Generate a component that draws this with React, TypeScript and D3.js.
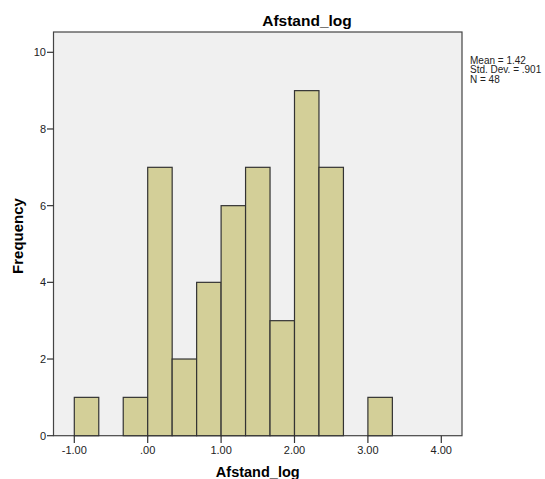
import React, { useEffect, useRef } from "react";
import * as d3 from "d3";

// histogram bins (lower edge, count), bin width 1/3
const binStarts = [-1, -1 / 3, 0, 1 / 3, 2 / 3, 1, 4 / 3, 5 / 3, 2, 7 / 3, 3];
const binWidth = 1 / 3;
const counts = [1, 1, 7, 2, 4, 6, 7, 3, 9, 7, 1];
const xTicks = [-1, 0, 1, 2, 3, 4];
const yTicks = [0, 2, 4, 6, 8, 10];
const statLines = ["Mean = 1.42", "Std. Dev. = .901", "N = 48"];

const fmtX = (v: number) => {
  const s = v.toFixed(2);
  return s.replace(/^0\./, ".").replace(/^-0\./, "-.");
};

export default function App() {
  const ref = useRef<SVGSVGElement | null>(null);

  useEffect(() => {
    const svg = d3.select(ref.current);
    svg.selectAll("*").remove();

    const left = 53.5, right = 462, top = 32, bottom = 435.7;
    const x = d3.scaleLinear().domain([-1, 4]).range([74.3, 441.3]);
    const y = d3.scaleLinear().domain([0, 10]).range([bottom, 52.3]);

    svg.append("rect").attr("width", 545).attr("height", 479).attr("fill", "#fff");

    svg.append("rect")
      .attr("x", left).attr("y", top)
      .attr("width", right - left).attr("height", bottom - top)
      .attr("fill", "#f0f0f0")
      .attr("stroke", "#444").attr("stroke-width", 1.2);

    svg.selectAll(".bar")
      .data(counts)
      .enter()
      .append("rect")
      .attr("class", "bar")
      .attr("x", (d, i) => x(binStarts[i]))
      .attr("y", d => y(d))
      .attr("width", x(binWidth) - x(0))
      .attr("height", d => bottom - y(d))
      .attr("fill", "#d3cf98")
      .attr("stroke", "#333")
      .attr("stroke-width", 1.2);

    const font = "Arial, 'Liberation Sans', sans-serif";

    // y axis ticks
    const yg = svg.append("g");
    yTicks.forEach(t => {
      yg.append("line").attr("x1", 47).attr("x2", left).attr("y1", y(t)).attr("y2", y(t))
        .attr("stroke", "#333").attr("stroke-width", 1.2);
      yg.append("text").attr("x", 46).attr("y", y(t)).attr("dy", "0.35em")
        .attr("text-anchor", "end").attr("font-family", font).attr("font-size", 11)
        .attr("fill", "#222").text(t);
    });

    // x axis ticks
    const xg = svg.append("g");
    xTicks.forEach(t => {
      xg.append("line").attr("x1", x(t)).attr("x2", x(t)).attr("y1", bottom).attr("y2", 443)
        .attr("stroke", "#333").attr("stroke-width", 1.2);
      xg.append("text").attr("x", x(t)).attr("y", 454)
        .attr("text-anchor", "middle").attr("font-family", font).attr("font-size", 11)
        .attr("fill", "#222").text(fmtX(t));
    });

    svg.append("text").attr("x", 307).attr("y", 26).attr("text-anchor", "middle")
      .attr("font-family", font).attr("font-size", 15.5).attr("font-weight", "bold")
      .text("Afstand_log");

    svg.append("text").attr("x", (left + right) / 2).attr("y", 476.5).attr("text-anchor", "middle")
      .attr("font-family", font).attr("font-size", 14.5).attr("font-weight", "bold")
      .text("Afstand_log");

    svg.append("text").attr("transform", "translate(23,236) rotate(-90)")
      .attr("text-anchor", "middle")
      .attr("font-family", font).attr("font-size", 15).attr("font-weight", "bold")
      .text("Frequency");

    svg.append("g").selectAll("text").data(statLines).enter().append("text")
      .attr("x", 470).attr("y", (d, i) => 63.5 + i * 9.8)
      .attr("font-family", font).attr("font-size", 10).attr("fill", "#222")
      .text(d => d);
  }, []);

  return (
    <svg ref={ref} width={545} height={479}
      style={{ position: "absolute", left: 0, top: 0, display: "block" }} />
  );
}
